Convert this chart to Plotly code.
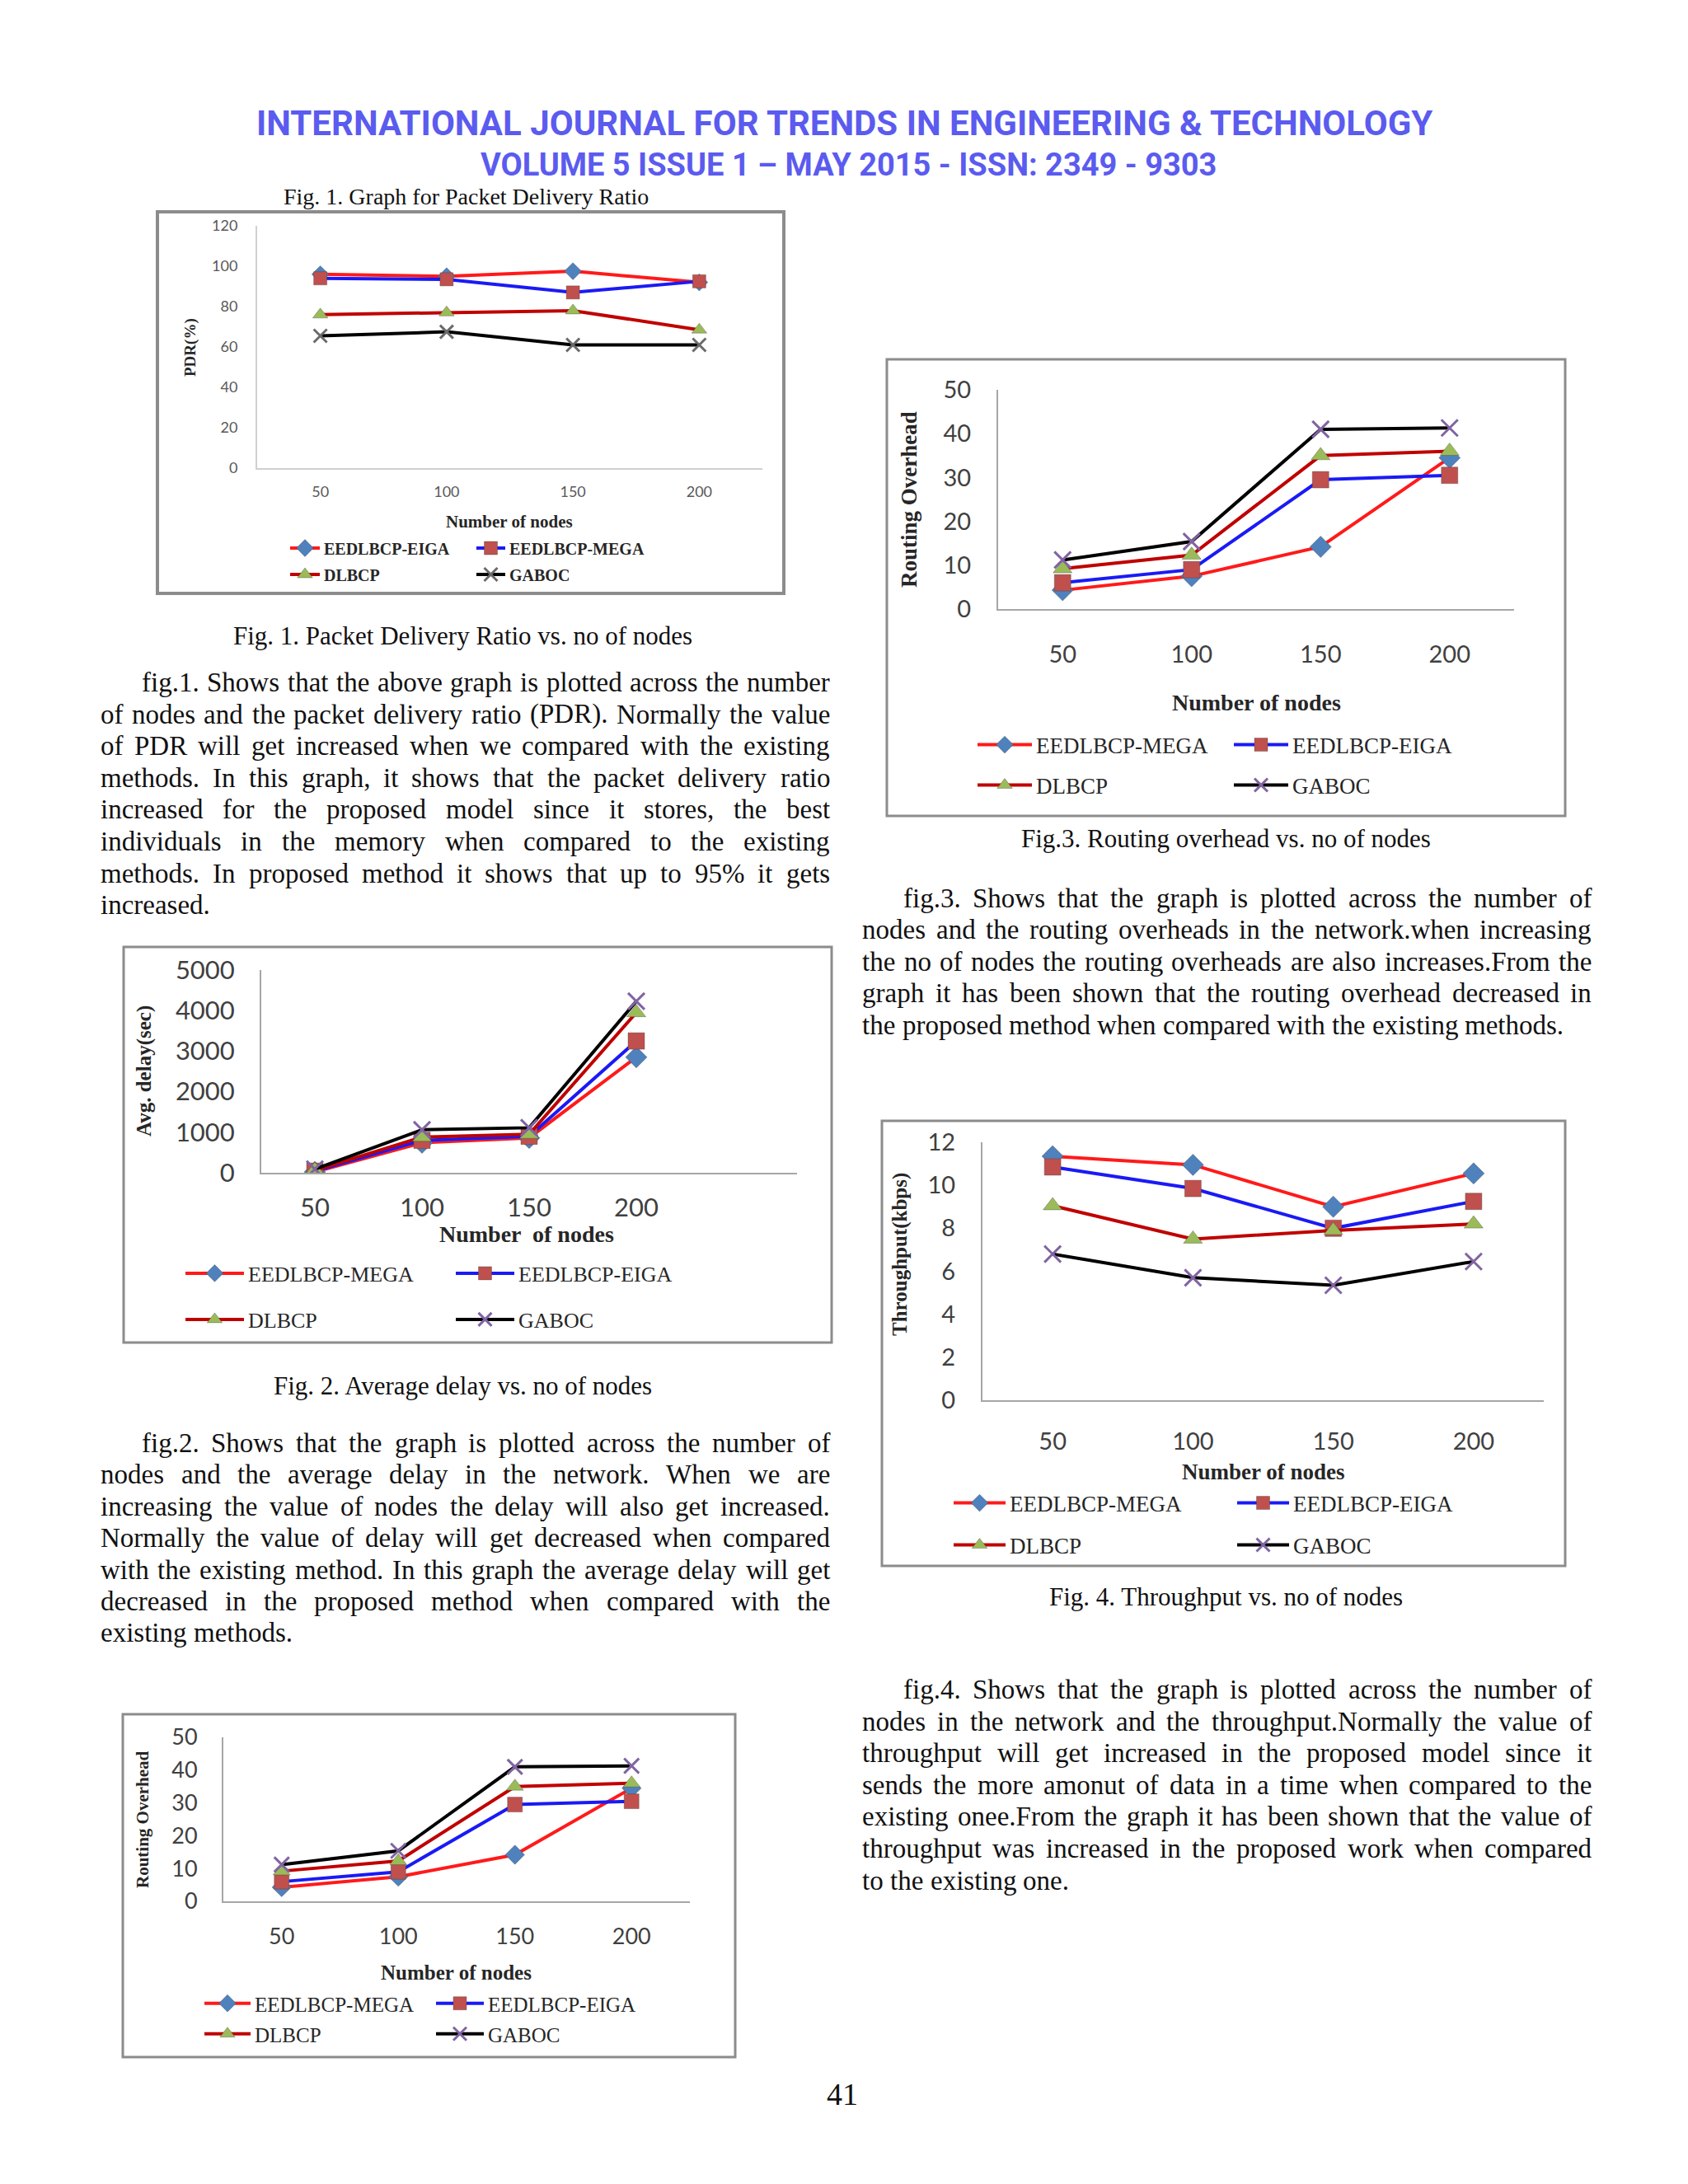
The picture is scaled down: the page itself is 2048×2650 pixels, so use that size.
import plotly.graph_objects as go

W, H = 2048, 2650

# ---------------- data ----------------
nodes = ["50", "100", "150", "200"]

pdr_eiga = [96, 95, 97.5, 92]
pdr_mega = [94, 93.5, 87, 92.5]
pdr_dlbcp = [76, 77, 78, 68.5]
pdr_gaboc = [65.5, 67.5, 61, 61]
pdr_ticks = [0, 20, 40, 60, 80, 100, 120]

delay_mega = [20, 740, 860, 2850]
delay_eiga = [40, 800, 900, 3250]
delay_dlbcp = [60, 880, 950, 3950]
delay_gaboc = [90, 1060, 1110, 4230]
delay_ticks = [0, 1000, 2000, 3000, 4000, 5000]

ro_mega = [4.3, 7.5, 14.2, 34.5]
ro_eiga = [6, 9, 29.5, 30.5]
ro_dlbcp = [9.2, 12.3, 35, 36]
ro_gaboc = [11.2, 15.4, 41, 41.3]
ro_ticks = [0, 10, 20, 30, 40, 50]

tp_mega = [11.35, 10.95, 9.0, 10.55]
tp_eiga = [10.85, 9.85, 8.0, 9.25]
tp_dlbcp = [9.05, 7.5, 7.9, 8.2]
tp_gaboc = [6.8, 5.7, 5.35, 6.45]
tp_ticks = [0, 2, 4, 6, 8, 10, 12]

header_1 = "INTERNATIONAL JOURNAL FOR TRENDS IN ENGINEERING &amp; TECHNOLOGY"
header_2 = "VOLUME 5 ISSUE 1 \u2013 MAY 2015 - ISSN: 2349 - 9303"

para1 = [
    "fig.1. Shows that the above graph is plotted across the number",
    "of nodes and the packet delivery ratio (PDR). Normally the value",
    "of PDR will get increased when we compared with the existing",
    "methods. In this graph, it shows that the packet delivery ratio",
    "increased for the proposed model since it stores, the best",
    "individuals in the memory when compared to the existing",
    "methods. In proposed method it shows that up to 95% it gets",
    "increased.",
]
para2 = [
    "fig.2. Shows that the graph is plotted across the number of",
    "nodes and the average delay in the network. When we are",
    "increasing the value of nodes the delay will also get increased.",
    "Normally the value of delay will get decreased when compared",
    "with the existing method. In this graph the average delay will get",
    "decreased in the proposed method when compared with the",
    "existing methods.",
]
para3 = [
    "fig.3. Shows that the graph is plotted across the number of",
    "nodes and the routing overheads in the network.when increasing",
    "the no of nodes the routing overheads are also increases.From the",
    "graph it has been shown that the routing overhead decreased in",
    "the proposed method when compared with the existing methods.",
]
para4 = [
    "fig.4. Shows that the graph is plotted across the number of",
    "nodes in the network and the throughput.Normally the value of",
    "throughput will get increased in the proposed model since it",
    "sends the more amonut of data in a time when compared to the",
    "existing onee.From the graph it has been shown that the value of",
    "throughput was increased in the proposed work when compared",
    "to the existing one.",
]

# ---------------- styles ----------------
RED, BLUE, DRED, BLACK = "#FF1A1A", "#1A1AF5", "#C00000", "#000000"
M_BLUE, M_RED, M_GREEN, M_PURPLE = "#4F81BD", "#C0504D", "#9BBB59", "#8064A2"
SERIF = "Liberation Serif"
TICKF = "Lato"


def px(x):
    return x / W


def py(y):
    return 1 - y / H


charts = [
    dict(box=(191, 257, 951, 720), bw=4, xdom=(312, 925), yb=568, yt=274, yr=(0, 120), ticks=pdr_ticks,
         ncat=4, tf=18, tc="#595959", xso=11, yso=18, alc="#d0d0d0",
         xt=("Number of nodes", 618, 633, 21), ytl=("PDR(%)", 231, 422, 19),
         leg=dict(rows=(665, 697), lx=(352, 578), tx=(398, 623), fs=20, bold=True),
         ms=16, lw=4,
         series=[("EEDLBCP-EIGA", pdr_eiga, RED, "diamond", M_BLUE),
                 ("EEDLBCP-MEGA", pdr_mega, BLUE, "square", M_RED),
                 ("DLBCP", pdr_dlbcp, DRED, "triangle-up", M_GREEN),
                 ("GABOC", pdr_gaboc, BLACK, "x-thin-open", "#6a6a6a")]),
    dict(box=(150, 1149, 1009, 1629), bw=3, xdom=(317, 967), yb=1423, yt=1177, yr=(0, 5000), ticks=delay_ticks,
         ncat=5, tf=31, tc="#404040", xso=14, yso=24, alc="#a6a6a6",
         xt=("Number  of nodes", 639, 1497, 28), ytl=("Avg. delay(sec)", 175, 1300, 25),
         leg=dict(rows=(1545, 1601), lx=(225, 553), tx=(306, 634), fs=26, bold=False),
         ms=20, lw=4,
         series=[("EEDLBCP-MEGA", delay_mega, RED, "diamond", M_BLUE),
                 ("EEDLBCP-EIGA", delay_eiga, BLUE, "square", M_RED),
                 ("DLBCP", delay_dlbcp, DRED, "triangle-up", M_GREEN),
                 ("GABOC", delay_gaboc, BLACK, "x-thin-open", M_PURPLE)]),
    dict(box=(1076, 436, 1899, 990), bw=3, xdom=(1211, 1837), yb=739, yt=473, yr=(0, 50), ticks=ro_ticks,
         ncat=4, tf=29, tc="#404040", xso=28, yso=25, alc="#a6a6a6",
         xt=("Number of nodes", 1524, 853, 28), ytl=("Routing Overhead", 1103, 606, 27),
         leg=dict(rows=(904, 953), lx=(1186, 1497), tx=(1262, 1573), fs=27, bold=False),
         ms=20, lw=4,
         series=[("EEDLBCP-MEGA", ro_mega, RED, "diamond", M_BLUE),
                 ("EEDLBCP-EIGA", ro_eiga, BLUE, "square", M_RED),
                 ("DLBCP", ro_dlbcp, DRED, "triangle-up", M_GREEN),
                 ("GABOC", ro_gaboc, BLACK, "x-thin-open", M_PURPLE)]),
    dict(box=(1070, 1360, 1899, 1900), bw=3, xdom=(1192, 1873), yb=1699, yt=1386, yr=(0, 12), ticks=tp_ticks,
         ncat=4, tf=29, tc="#404040", xso=23, yso=25, alc="#a6a6a6",
         xt=("Number of nodes", 1533, 1786, 27), ytl=("Throughput(kbps)", 1092, 1522, 25),
         leg=dict(rows=(1824, 1875), lx=(1157, 1501), tx=(1230, 1574), fs=27, bold=False),
         ms=20, lw=4,
         series=[("EEDLBCP-MEGA", tp_mega, RED, "diamond", M_BLUE),
                 ("EEDLBCP-EIGA", tp_eiga, BLUE, "square", M_RED),
                 ("DLBCP", tp_dlbcp, DRED, "triangle-up", M_GREEN),
                 ("GABOC", tp_gaboc, BLACK, "x-thin-open", M_PURPLE)]),
    dict(box=(149, 2080, 892, 2496), bw=3, xdom=(271, 837), yb=2307, yt=2108, yr=(0, 50), ticks=ro_ticks,
         ncat=4, tf=27, tc="#404040", xso=18, yso=24, alc="#a6a6a6",
         xt=("Number of nodes", 553, 2393, 25), ytl=("Routing Overhead", 173, 2208, 21),
         leg=dict(rows=(2431, 2468), lx=(248, 529), tx=(314, 597), fs=25, bold=False),
         ms=18, lw=4,
         series=[("EEDLBCP-MEGA", ro_mega, RED, "diamond", M_BLUE),
                 ("EEDLBCP-EIGA", ro_eiga, BLUE, "square", M_RED),
                 ("DLBCP", ro_dlbcp, DRED, "triangle-up", M_GREEN),
                 ("GABOC", ro_gaboc, BLACK, "x-thin-open", M_PURPLE)]),
]

fig = go.Figure()
layout = {}
annotations = []
shapes = []
leg_n = 0

for ci, ch in enumerate(charts, start=1):
    xa = "x" if ci == 1 else f"x{ci}"
    ya = "y" if ci == 1 else f"y{ci}"
    xk = "xaxis" if ci == 1 else f"xaxis{ci}"
    yk = "yaxis" if ci == 1 else f"yaxis{ci}"
    layout[xk] = dict(domain=[px(ch["xdom"][0]), px(ch["xdom"][1])], anchor=ya, type="category",
                      categoryorder="array", categoryarray=nodes, range=[-0.5, ch["ncat"] - 0.5],
                      showline=True, linecolor=ch["alc"], linewidth=2, showgrid=False, zeroline=False,
                      ticks="", tickfont=dict(family=TICKF, size=ch["tf"], color=ch["tc"]),
                      ticklabelstandoff=ch["xso"], fixedrange=True, automargin=False)
    layout[yk] = dict(domain=[py(ch["yb"]), py(ch["yt"])], anchor=xa, range=list(ch["yr"]),
                      tickvals=ch["ticks"], showline=True, linecolor=ch["alc"], linewidth=2,
                      showgrid=False, zeroline=False, ticks="",
                      tickfont=dict(family=TICKF, size=ch["tf"], color=ch["tc"]),
                      ticklabelstandoff=ch["yso"], fixedrange=True, automargin=False)
    b = ch["box"]
    shapes.append(dict(type="rect", xref="paper", yref="paper", x0=px(b[0]), x1=px(b[2]),
                       y0=py(b[3]), y1=py(b[1]), line=dict(color="#8c8c8c", width=ch["bw"]),
                       fillcolor="rgba(0,0,0,0)", layer="below"))
    t, x, y, s = ch["xt"]
    annotations.append(dict(text=f"<b>{t}</b>", x=px(x), y=py(y), xref="paper", yref="paper",
                            showarrow=False, xanchor="center", yanchor="middle",
                            font=dict(family=SERIF, size=s, color="#262626")))
    t, x, y, s = ch["ytl"]
    annotations.append(dict(text=f"<b>{t}</b>", x=px(x), y=py(y), xref="paper", yref="paper",
                            showarrow=False, xanchor="center", yanchor="middle", textangle=-90,
                            font=dict(family=SERIF, size=s, color="#262626")))
    lg = ch["leg"]
    for k, (name, vals, lc, sym, mc) in enumerate(ch["series"]):
        leg_n += 1
        lid = "legend" if leg_n == 1 else f"legend{leg_n}"
        row, col = k // 2, k % 2
        iw = max(30, lg["tx"][col] - lg["lx"][col] - 10)
        layout[lid] = dict(x=px(lg["lx"][col] - 5), y=py(lg["rows"][row]), xanchor="left",
                           yanchor="middle", bgcolor="rgba(0,0,0,0)", borderwidth=0,
                           itemwidth=iw, orientation="h",
                           font=dict(family=SERIF, size=lg["fs"], color="#262626",
                                     weight="bold" if lg["bold"] else "normal"))
        xline = "x" in sym
        fig.add_trace(go.Scatter(
            x=nodes, y=vals, xaxis=xa, yaxis=ya, name=name, legend=lid, showlegend=True,
            mode="lines+markers", line=dict(color=lc, width=ch["lw"]),
            marker=dict(symbol=sym, color=mc, size=ch["ms"],
                        line=dict(color=mc if xline else "rgba(60,60,60,0.35)",
                                  width=3 if xline else 1)),
            hoverinfo="skip"))

# ---------------- text ----------------
TW = {" ": 250, "a": 444, "b": 500, "c": 444, "d": 500, "e": 444, "f": 333, "g": 500, "h": 500,
      "i": 278, "j": 278, "k": 500, "l": 278, "m": 778, "n": 500, "o": 500, "p": 500, "q": 500,
      "r": 333, "s": 389, "t": 278, "u": 500, "v": 500, "w": 722, "x": 500, "y": 500, "z": 444,
      "A": 722, "B": 667, "C": 667, "D": 722, "E": 611, "F": 556, "G": 722, "H": 722, "I": 333,
      "J": 389, "K": 722, "L": 611, "M": 889, "N": 722, "O": 722, "P": 556, "Q": 722, "R": 667,
      "S": 556, "T": 611, "U": 722, "V": 722, "W": 944, "X": 722, "Y": 722, "Z": 611,
      ".": 250, ",": 250, "(": 333, ")": 333, "%": 833, "-": 333, ":": 278}
for d in "0123456789":
    TW[d] = 500

BODY = 33


def wwidth(word, size):
    return sum(TW.get(c, 500) for c in word) * size / 1000


def add_para(lines, x0, x1, y0, step, indent, size=BODY):
    for i, line in enumerate(lines):
        words = line.split()
        left = x0 + (indent if i == 0 else 0)
        widths = [wwidth(w, size) for w in words]
        if i < len(lines) - 1 and len(words) > 1:
            gap = (x1 - left - sum(widths)) / (len(words) - 1)
        else:
            gap = 250 * size / 1000
        xpos = left
        for w, wd in zip(words, widths):
            annotations.append(dict(text=w, x=px(xpos), y=py(y0 + i * step), xref="paper", yref="paper",
                                    showarrow=False, xanchor="left", yanchor="middle", borderpad=0,
                                    font=dict(family=SERIF, size=size, color="#111111")))
            xpos += wd + gap


add_para(para1, 121, 1006, 828, 38.6, 50)
add_para(para2, 121, 1006, 1751, 38.4, 50)
add_para(para3, 1045, 1930, 1090, 38.4, 50)
add_para(para4, 1045, 1930, 2050, 38.6, 50)


def center_text(text, x, y, size, family=SERIF, color="#111111", weight="normal"):
    annotations.append(dict(text=text, x=px(x), y=py(y), xref="paper", yref="paper", showarrow=False,
                            xanchor="center", yanchor="middle",
                            font=dict(family=family, size=size, color=color, weight=weight)))


HEAD = "Roboto, Liberation Sans, sans-serif"
center_text(header_1, 1024, 149, 42, HEAD, "#5B5BEF", "bold")
center_text(header_2, 1029, 200, 38, HEAD, "#5B5BEF", "bold")
center_text("Fig. 1. Graph for Packet Delivery Ratio", 565, 238, 28)
center_text("Fig. 1. Packet Delivery Ratio vs. no of nodes", 561, 771, 31)
center_text("Fig. 2. Average delay vs. no of nodes", 561, 1681, 31)
center_text("Fig.3. Routing overhead vs. no of nodes", 1487, 1017, 31)
center_text("Fig. 4. Throughput vs. no of nodes", 1487, 1937, 31)
center_text("41", 1022, 2541, 38)

fig.update_layout(width=W, height=H, margin=dict(l=0, r=0, t=0, b=0, pad=0), autosize=False,
                  paper_bgcolor="white", plot_bgcolor="rgba(0,0,0,0)", showlegend=True,
                  annotations=annotations, shapes=shapes, **layout)

fig.write_html("out.html", config={"displayModeBar": False},
               post_script="document.body.style.margin='0px';")
